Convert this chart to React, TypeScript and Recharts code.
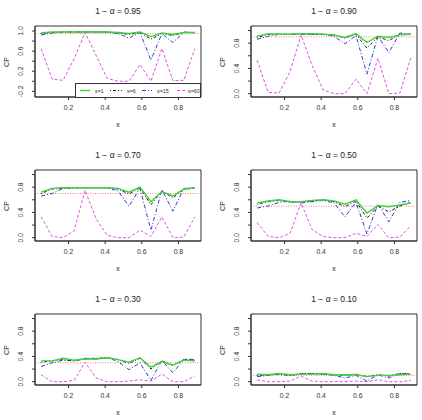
import { Legend, Line, LineChart, ReferenceArea, ReferenceLine, XAxis, YAxis } from "recharts";

const xGrid = [0.05, 0.11, 0.17, 0.23, 0.29, 0.35, 0.41, 0.47, 0.53, 0.59, 0.65, 0.71, 0.77, 0.83, 0.89];
const levels = [0.95, 0.9, 0.7, 0.5, 0.3, 0.1];
const levelLabels = ["0.95", "0.90", "0.70", "0.50", "0.30", "0.10"];

// coverage probability, one row per nominal level
const cpS1 = [
  [0.96, 0.98, 0.98, 0.98, 0.98, 0.98, 0.98, 0.97, 0.95, 0.98, 0.89, 0.96, 0.93, 0.97, 0.97],
  [0.91, 0.95, 0.94, 0.94, 0.95, 0.95, 0.94, 0.93, 0.89, 0.95, 0.81, 0.91, 0.89, 0.93, 0.94],
  [0.72, 0.78, 0.79, 0.79, 0.79, 0.79, 0.79, 0.78, 0.72, 0.8, 0.57, 0.73, 0.66, 0.77, 0.79],
  [0.55, 0.58, 0.6, 0.57, 0.57, 0.59, 0.6, 0.58, 0.53, 0.6, 0.39, 0.51, 0.49, 0.52, 0.55],
  [0.33, 0.33, 0.37, 0.34, 0.36, 0.36, 0.38, 0.35, 0.31, 0.38, 0.23, 0.32, 0.26, 0.34, 0.33],
  [0.12, 0.11, 0.13, 0.11, 0.12, 0.12, 0.13, 0.11, 0.11, 0.11, 0.08, 0.1, 0.1, 0.11, 0.12]
];
const cpS6 = [
  [0.95, 0.97, 0.98, 0.98, 0.98, 0.98, 0.98, 0.96, 0.93, 0.97, 0.84, 0.95, 0.91, 0.97, 0.97],
  [0.89, 0.94, 0.94, 0.94, 0.95, 0.94, 0.94, 0.93, 0.88, 0.94, 0.72, 0.9, 0.84, 0.94, 0.94],
  [0.7, 0.77, 0.78, 0.79, 0.79, 0.79, 0.79, 0.77, 0.69, 0.79, 0.52, 0.74, 0.63, 0.77, 0.78],
  [0.53, 0.57, 0.59, 0.56, 0.57, 0.58, 0.6, 0.57, 0.49, 0.58, 0.31, 0.5, 0.41, 0.5, 0.56],
  [0.31, 0.33, 0.35, 0.33, 0.37, 0.37, 0.38, 0.35, 0.29, 0.37, 0.2, 0.33, 0.26, 0.35, 0.34],
  [0.1, 0.11, 0.12, 0.1, 0.13, 0.13, 0.12, 0.11, 0.1, 0.12, 0.08, 0.11, 0.09, 0.13, 0.12]
];
const cpS15 = [
  [0.92, 0.96, 0.98, 0.98, 0.98, 0.98, 0.98, 0.95, 0.86, 0.97, 0.42, 0.95, 0.77, 0.98, 0.97],
  [0.86, 0.91, 0.94, 0.94, 0.94, 0.94, 0.94, 0.91, 0.79, 0.92, 0.31, 0.91, 0.65, 0.96, 0.94],
  [0.66, 0.7, 0.78, 0.79, 0.79, 0.79, 0.79, 0.74, 0.5, 0.78, 0.12, 0.76, 0.42, 0.78, 0.79],
  [0.47, 0.5, 0.56, 0.58, 0.55, 0.57, 0.59, 0.55, 0.33, 0.56, 0.06, 0.53, 0.25, 0.56, 0.59],
  [0.24, 0.3, 0.34, 0.33, 0.36, 0.36, 0.38, 0.32, 0.19, 0.3, 0.02, 0.34, 0.14, 0.36, 0.35],
  [0.08, 0.1, 0.12, 0.1, 0.12, 0.13, 0.12, 0.1, 0.06, 0.1, 0.01, 0.11, 0.06, 0.13, 0.12]
];
const cpS60 = [
  [0.65, 0.04, 0.02, 0.45, 0.97, 0.52, 0.06, 0.0, 0.0, 0.33, 0.0, 0.65, 0.01, 0.02, 0.65],
  [0.53, 0.02, 0.01, 0.35, 0.93, 0.45, 0.06, 0.0, 0.0, 0.23, 0.0, 0.56, 0.0, 0.01, 0.57],
  [0.33, 0.02, 0.0, 0.11, 0.75, 0.3, 0.04, 0.0, 0.0, 0.12, 0.02, 0.33, 0.0, 0.01, 0.33],
  [0.24, 0.02, 0.0, 0.07, 0.55, 0.13, 0.02, 0.0, 0.0, 0.07, 0.02, 0.21, 0.0, 0.01, 0.19],
  [0.11, 0.0, 0.0, 0.02, 0.31, 0.06, 0.0, 0.0, 0.01, 0.03, 0.01, 0.12, 0.0, 0.0, 0.09],
  [0.03, 0.0, 0.0, 0.01, 0.09, 0.01, 0.0, 0.0, 0.0, 0.01, 0.0, 0.03, 0.0, 0.0, 0.02]
];

const xTicks = [0.2, 0.4, 0.6, 0.8];
const yTicksWide = [-0.2, 0, 0.2, 0.4, 0.6, 0.8, 1.0];
const yLabelsWide = [-0.2, 0.2, 0.6, 1.0];
const yTicksUnit = [0, 0.2, 0.4, 0.6, 0.8, 1.0];
const yLabelsUnit = [0, 0.4, 0.8];

const xDomain: [number, number] = [0.0164, 0.9236];
const yDomainWide: [number, number] = [-0.313, 1.1];
const yDomainUnit: [number, number] = [-0.052, 1.071];

const FONT = "'Liberation Sans', Arial, Helvetica, sans-serif";
const AXIS = "#333";

// drawn back to front, legend reads in the reverse order
const series = [
  { key: "s60", name: "s=60", color: "#e050e0", dash: "3 2", width: 1 },
  { key: "s15", name: "s=15", color: "#2b3dd6", dash: "4 2 1 2", width: 1 },
  { key: "s6", name: "s=6", color: "#1a1a1a", dash: "1 2 3 2", width: 1 },
  { key: "s1", name: "s=1", color: "#3cd23c", dash: undefined, width: 1.4 }
];

const BOX_W = 166;
const BOX_H = 71;
const colLeft = [35, 251];
const rowTop = [26, 170, 314];

function makeYTick(labeled: number[]) {
  return (props: any) => {
    const { x, y, payload } = props;
    const v = Number(payload.value);
    if (!labeled.some((l) => Math.abs(l - v) < 1e-9)) return <g />;
    const bx = x - 7;
    return (
      <text
        x={bx}
        y={y}
        transform={`rotate(-90 ${bx} ${y})`}
        textAnchor="middle"
        fontSize={6.8}
        fill={AXIS}
        fontFamily={FONT}
      >
        {v.toFixed(1)}
      </text>
    );
  };
}

function LegendBox() {
  const items = [
    { name: "s=1", color: "#3cd23c", dash: undefined, x0: 5, x1: 15, tx: 20, w: 1.4 },
    { name: "s=6", color: "#1a1a1a", dash: "1 2 3 2", x0: 35, x1: 47, tx: 52, w: 1 },
    { name: "s=15", color: "#2b3dd6", dash: "4 2 1 2", x0: 67, x1: 77, tx: 82, w: 1 },
    { name: "s=60", color: "#e050e0", dash: "3 2", x0: 102, x1: 111, tx: 113, w: 1 }
  ];
  return (
    <svg width={126} height={15} style={{ display: "block" }}>
      <rect x={0.5} y={0.5} width={125} height={14} fill="#fff" stroke={AXIS} />
      {items.map((it) => (
        <g key={it.name}>
          <line x1={it.x0} x2={it.x1} y1={7.5} y2={7.5} stroke={it.color} strokeWidth={it.w} strokeDasharray={it.dash} />
          <text x={it.tx} y={9.5} fontSize={5.3} fill={AXIS} fontFamily={FONT}>
            {it.name}
          </text>
        </g>
      ))}
    </svg>
  );
}

function Panel({ index }: { index: number }) {
  const row = Math.floor(index / 2);
  const col = index % 2;
  const left = colLeft[col];
  const top = rowTop[row];
  const wide = index === 0;
  const yDomain = wide ? yDomainWide : yDomainUnit;
  const yTicks = wide ? yTicksWide : yTicksUnit;
  const yLabels = wide ? yLabelsWide : yLabelsUnit;

  const data = xGrid.map((x, i) => ({
    x,
    s1: cpS1[index][i],
    s6: cpS6[index][i],
    s15: cpS15[index][i],
    s60: cpS60[index][i]
  }));

  return (
    <>
      <div
        style={{
          position: "absolute",
          left,
          width: BOX_W,
          top: top - 21,
          height: 12,
          lineHeight: "12px",
          textAlign: "center",
          fontSize: 8.5,
          color: "#222",
          fontFamily: FONT
        }}
      >
        1 − α = {levelLabels[index]}
      </div>
      <div
        style={{
          position: "absolute",
          left,
          width: BOX_W,
          top: top + BOX_H + 22,
          height: 12,
          lineHeight: "12px",
          textAlign: "center",
          fontSize: 7,
          color: "#222",
          fontFamily: FONT
        }}
      >
        x
      </div>
      <div
        style={{
          position: "absolute",
          left: left - 28 - 20,
          width: 40,
          top: top + BOX_H / 2 - 6,
          height: 12,
          lineHeight: "12px",
          textAlign: "center",
          fontSize: 7,
          color: "#222",
          fontFamily: FONT,
          transform: "rotate(-90deg)"
        }}
      >
        CP
      </div>
      <div style={{ position: "absolute", left: left - 40, top: top - 20 }}>
        <LineChart
          width={40 + BOX_W + 6}
          height={20 + BOX_H + 40}
          data={data}
          margin={{ top: 20, right: 6, bottom: 0, left: 0 }}
        >
          <XAxis
            type="number"
            dataKey="x"
            domain={xDomain}
            ticks={xTicks}
            allowDataOverflow
            interval={0}
            height={40}
            tickSize={3}
            tickMargin={5}
            stroke={AXIS}
            tick={{ fontSize: 6.8, fill: AXIS, fontFamily: FONT }}
            tickFormatter={(v: number) => v.toFixed(1)}
          />
          <YAxis
            type="number"
            domain={yDomain}
            ticks={yTicks}
            allowDataOverflow
            interval={0}
            width={40}
            tickSize={3}
            tickMargin={2}
            stroke={AXIS}
            tick={makeYTick(yLabels)}
          />
          <ReferenceArea
            x1={xDomain[0]}
            x2={xDomain[1]}
            y1={yDomain[0]}
            y2={yDomain[1]}
            fill="none"
            fillOpacity={0}
            stroke={AXIS}
            strokeWidth={1}
            ifOverflow="visible"
          />
          <ReferenceLine y={levels[index]} stroke="#f07070" strokeWidth={0.9} strokeDasharray="1 1.5" />
          {series.map((s) => (
            <Line
              key={s.key}
              type="linear"
              dataKey={s.key}
              name={s.name}
              stroke={s.color}
              strokeWidth={s.width}
              strokeDasharray={s.dash}
              dot={false}
              isAnimationActive={false}
            />
          ))}
          {wide && (
            <Legend
              layout="vertical"
              align="center"
              verticalAlign="middle"
              content={() => <LegendBox />}
              wrapperStyle={{ left: 80, top: 77, width: 126, height: 15 }}
            />
          )}
        </LineChart>
      </div>
    </>
  );
}

export default function App() {
  return (
    <div
      style={{
        position: "absolute",
        left: 0,
        top: 0,
        width: 422,
        height: 420,
        background: "#fff",
        overflow: "hidden",
        fontFamily: FONT
      }}
    >
      {levels.map((_, i) => (
        <Panel key={i} index={i} />
      ))}
    </div>
  );
}
